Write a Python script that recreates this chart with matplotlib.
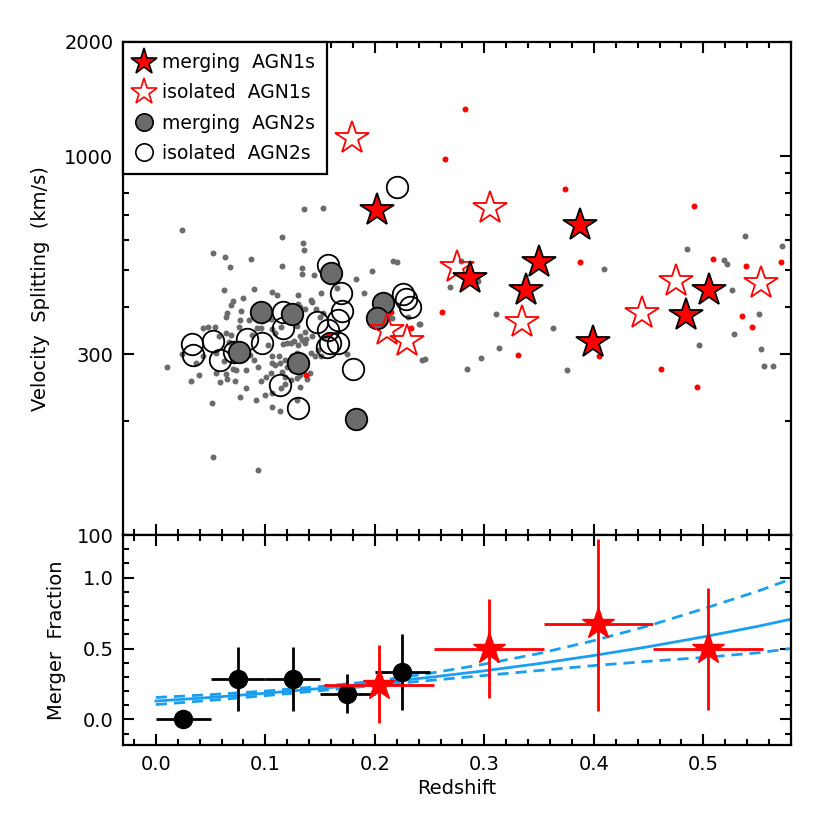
import matplotlib
matplotlib.use('Agg')
import matplotlib.pyplot as plt
from matplotlib.ticker import FixedLocator, MultipleLocator, NullFormatter, FixedFormatter
from matplotlib.lines import Line2D

# ---------------- data: top panel ----------------
# merging AGN1s (filled red stars)
agn1_merg_z = [0.202, 0.287, 0.338, 0.350, 0.387, 0.399, 0.484, 0.505]
agn1_merg_v = [720, 476, 443, 525, 658, 323, 380, 443]
# isolated AGN1s (open red stars)
agn1_iso_z = [0.179, 0.211, 0.229, 0.275, 0.305, 0.334, 0.444, 0.475, 0.553]
agn1_iso_v = [1114, 347, 325, 510, 729, 365, 385, 468, 462]
# merging AGN2s (filled grey circles)
agn2_merg_z = [0.096, 0.124, 0.076, 0.130, 0.160, 0.207, 0.202, 0.183]
agn2_merg_v = [388, 383, 304, 284, 491, 409, 374, 202]
# isolated AGN2s (open circles)
agn2_iso_z = [0.220, 0.157, 0.169, 0.170, 0.166, 0.116, 0.116, 0.147, 0.157, 0.156,
              0.159, 0.166, 0.083, 0.097, 0.052, 0.033, 0.034, 0.059, 0.071, 0.113,
              0.130, 0.180, 0.226, 0.228, 0.232]
agn2_iso_v = [828, 516, 435, 390, 369, 388, 352, 365, 347, 313,
              321, 321, 329, 321, 325, 319, 298, 290, 304, 249,
              216, 274, 432, 419, 400]
# parent sample, type 2 (small grey dots)
gray_pts = [(0.135, 725), (0.153, 728), (0.024, 638), (0.115, 611), (0.134, 590),
            (0.135, 565), (0.052, 556), (0.063, 541), (0.087, 534), (0.068, 509),
            (0.115, 513), (0.133, 508), (0.133, 488), (0.144, 485), (0.183, 473),
            (0.197, 498), (0.217, 530), (0.165, 449), (0.062, 443), (0.090, 446),
            (0.106, 437), (0.111, 430), (0.130, 429), (0.151, 434), (0.142, 417),
            (0.143, 413), (0.070, 415), (0.080, 421), (0.069, 405), (0.065, 385),
            (0.064, 375), (0.078, 391), (0.101, 403), (0.077, 369), (0.085, 369),
            (0.097, 366), (0.105, 371), (0.130, 407), (0.132, 400), (0.136, 396),
            (0.146, 394), (0.153, 385), (0.190, 434), (0.150, 377), (0.213, 375),
            (0.240, 360), (0.043, 352), (0.048, 355), (0.054, 355), (0.064, 342),
            (0.076, 354), (0.092, 352), (0.096, 351), (0.106, 349), (0.114, 355),
            (0.129, 356), (0.136, 344), (0.157, 337), (0.058, 335), (0.069, 337),
            (0.088, 337), (0.102, 317), (0.109, 341), (0.116, 319), (0.120, 321),
            (0.123, 322), (0.126, 326), (0.132, 336), (0.133, 327), (0.136, 321),
            (0.137, 330), (0.130, 317), (0.143, 335), (0.154, 334), (0.148, 308),
            (0.151, 296), (0.175, 300), (0.243, 290), (0.024, 300), (0.043, 296),
            (0.055, 302), (0.067, 324), (0.079, 308), (0.086, 299), (0.090, 290),
            (0.106, 296), (0.112, 297), (0.118, 290), (0.124, 296), (0.129, 302),
            (0.142, 302), (0.145, 296), (0.010, 278), (0.037, 285), (0.062, 288),
            (0.070, 275), (0.073, 273), (0.082, 272), (0.093, 278), (0.106, 284),
            (0.109, 281), (0.113, 285), (0.115, 270), (0.120, 278), (0.124, 273),
            (0.141, 267), (0.138, 258), (0.132, 264), (0.129, 260), (0.118, 262),
            (0.105, 267), (0.101, 262), (0.032, 255), (0.039, 264), (0.055, 267),
            (0.059, 253), (0.065, 258), (0.072, 255), (0.064, 266), (0.082, 244),
            (0.096, 255), (0.114, 244), (0.118, 251), (0.123, 256), (0.132, 246),
            (0.100, 234), (0.091, 227), (0.106, 237), (0.077, 231), (0.051, 223),
            (0.106, 218), (0.113, 213), (0.129, 227), (0.052, 161), (0.093, 148),
            (0.220, 526), (0.269, 452), (0.241, 360), (0.246, 291), (0.284, 274),
            (0.297, 294), (0.311, 382), (0.313, 312), (0.216, 373), (0.230, 377),
            (0.279, 529), (0.294, 469), (0.409, 502), (0.363, 352), (0.375, 272),
            (0.485, 567), (0.538, 615), (0.519, 531), (0.522, 518), (0.526, 444),
            (0.496, 317), (0.528, 339), (0.551, 383), (0.553, 309), (0.555, 279),
            (0.564, 280), (0.572, 580)]
# parent sample, type 1 (small red dots)
red_pts = [(0.137, 265), (0.158, 337), (0.215, 387), (0.261, 388), (0.233, 351),
           (0.282, 1328), (0.264, 982), (0.374, 818), (0.491, 738), (0.387, 526),
           (0.509, 536), (0.539, 514), (0.571, 524), (0.331, 299), (0.405, 297),
           (0.461, 274), (0.494, 246), (0.535, 378), (0.544, 353)]

legend_labels = ['merging  AGN1s', 'isolated  AGN1s', 'merging  AGN2s', 'isolated  AGN2s']

# ---------------- data: bottom panel ----------------
frac2_z = [0.025, 0.075, 0.125, 0.175, 0.225]
frac2_f = [0.0, 0.288, 0.288, 0.182, 0.336]
frac2_lo = [0.0, 0.228, 0.228, 0.136, 0.271]
frac2_hi = [0.0, 0.220, 0.220, 0.135, 0.268]
frac1_z = [0.204, 0.304, 0.404, 0.504]
frac1_f = [0.245, 0.50, 0.671, 0.50]
frac1_lo = [0.271, 0.351, 0.611, 0.430]
frac1_hi = [0.283, 0.349, 0.600, 0.428]
bin_halfwidth = 0.025
bin_halfwidth1 = 0.05

fit_z = [0.0, 0.05, 0.10, 0.15, 0.20, 0.25, 0.30, 0.35, 0.40, 0.45, 0.50, 0.55, 0.58]
fit_mid = [0.130, 0.155, 0.185, 0.218, 0.256, 0.297, 0.343, 0.394, 0.451, 0.513, 0.582, 0.657, 0.707]
fit_up = [0.155, 0.175, 0.200, 0.232, 0.270, 0.325, 0.390, 0.465, 0.556, 0.660, 0.780, 0.905, 0.990]
fit_lo = [0.105, 0.135, 0.168, 0.203, 0.240, 0.275, 0.310, 0.345, 0.380, 0.410, 0.437, 0.470, 0.500]

RED = '#ff0000'
GREY = '#6b6b6b'
BLUE = '#1a9ff0'

plt.rcParams['font.family'] = ['DejaVu Sans']
plt.rcParams['font.size'] = 14

fig = plt.figure(figsize=(8.3, 8.3), dpi=100)
L, W = 0.1482, 0.8048
ax1 = fig.add_axes([L, 0.3554, W, 0.594])
ax2 = fig.add_axes([L, 0.1024, W, 0.2530])

XMIN, XMAX = -0.03, 0.58

def style(ax):
    for s in ax.spines.values():
        s.set_linewidth(1.6)
    ax.tick_params(which='both', direction='in', top=True, right=True, width=1.5,
                   labelsize=14, pad=7)
    ax.tick_params(which='major', length=8)
    ax.tick_params(which='minor', length=4.5)
    ax.set_xlim(XMIN, XMAX)
    ax.xaxis.set_major_locator(MultipleLocator(0.1))
    ax.xaxis.set_minor_locator(MultipleLocator(0.02))

# ---------- top panel ----------
style(ax1)
ax1.set_yscale('log')
ax1.set_ylim(100, 2000)
ax1.yaxis.set_major_locator(FixedLocator([100, 300, 1000, 2000]))
ax1.yaxis.set_major_formatter(FixedFormatter(['100', '300', '1000', '2000']))
ax1.yaxis.set_minor_locator(FixedLocator([200, 400, 500, 600, 700, 800, 900]))
ax1.yaxis.set_minor_formatter(NullFormatter())
ax1.xaxis.set_major_formatter(NullFormatter())

gz, gv = zip(*gray_pts)
rz, rv = zip(*red_pts)
ax1.plot(gz, gv, 'o', ms=4.3, color=GREY, mec='none', zorder=2)
ax1.plot(rz, rv, 'o', ms=4.3, color=RED, mec='none', zorder=2)
ax1.plot(agn2_iso_z, agn2_iso_v, 'o', ms=15.5, mfc='none', mec='black', mew=1.3, zorder=3)
ax1.plot(agn2_merg_z, agn2_merg_v, 'o', ms=15.5, mfc=GREY, mec='black', mew=1.3, zorder=4)
ax1.plot(agn1_iso_z, agn1_iso_v, '*', ms=25, mfc='none', mec=RED, mew=1.3, zorder=5)
ax1.plot(agn1_merg_z, agn1_merg_v, '*', ms=25, mfc=RED, mec='black', mew=1.3, zorder=6)
ax1.set_ylabel('Velocity  Splitting  (km/s)', fontsize=14, labelpad=10)

hs = [Line2D([], [], ls='none', marker='*', ms=20, mfc=RED, mec='black', mew=1.2),
      Line2D([], [], ls='none', marker='*', ms=20, mfc='white', mec=RED, mew=1.2),
      Line2D([], [], ls='none', marker='o', ms=12.5, mfc=GREY, mec='black', mew=1.2),
      Line2D([], [], ls='none', marker='o', ms=12.5, mfc='white', mec='black', mew=1.2)]
leg = ax1.legend(hs, legend_labels, loc='upper left', borderaxespad=0, fancybox=False,
                 edgecolor='black', framealpha=1, fontsize=13.5, handlelength=1.0,
                 handletextpad=0.5, labelspacing=0.6, borderpad=0.6)
leg.get_frame().set_linewidth(1.6)
leg.set_zorder(10)

# ---------- bottom panel ----------
style(ax2)
ax2.set_ylim(-0.18, 1.30)
ax2.yaxis.set_major_locator(FixedLocator([0.0, 0.5, 1.0]))
ax2.yaxis.set_major_formatter(FixedFormatter(['0.0', '0.5', '1.0']))
ax2.yaxis.set_minor_locator(MultipleLocator(0.1))
ax2.set_xticks([0.0, 0.1, 0.2, 0.3, 0.4, 0.5])
ax2.set_xticklabels(['0.0', '0.1', '0.2', '0.3', '0.4', '0.5'])

ax2.plot(fit_z, fit_mid, '-', color=BLUE, lw=2.0, zorder=2)
ax2.plot(fit_z, fit_up, '--', color=BLUE, lw=2.0, dashes=(4, 2.5), zorder=2)
ax2.plot(fit_z, fit_lo, '--', color=BLUE, lw=2.0, dashes=(4, 2.5), zorder=2)

ax2.errorbar(frac2_z, frac2_f, xerr=bin_halfwidth, yerr=[frac2_lo, frac2_hi], fmt='o',
             ms=13, color='black', ecolor='black', elinewidth=2.0, capsize=0, zorder=3)
ax2.errorbar(frac1_z, frac1_f, xerr=bin_halfwidth1, yerr=[frac1_lo, frac1_hi], fmt='*',
             ms=24, color=RED, ecolor=RED, elinewidth=2.0, capsize=0, zorder=4)

ax2.set_ylabel('Merger  Fraction', fontsize=14, labelpad=12)
ax2.set_xlabel('Redshift', fontsize=14, labelpad=4)

fig.savefig('out.png', dpi=100)
